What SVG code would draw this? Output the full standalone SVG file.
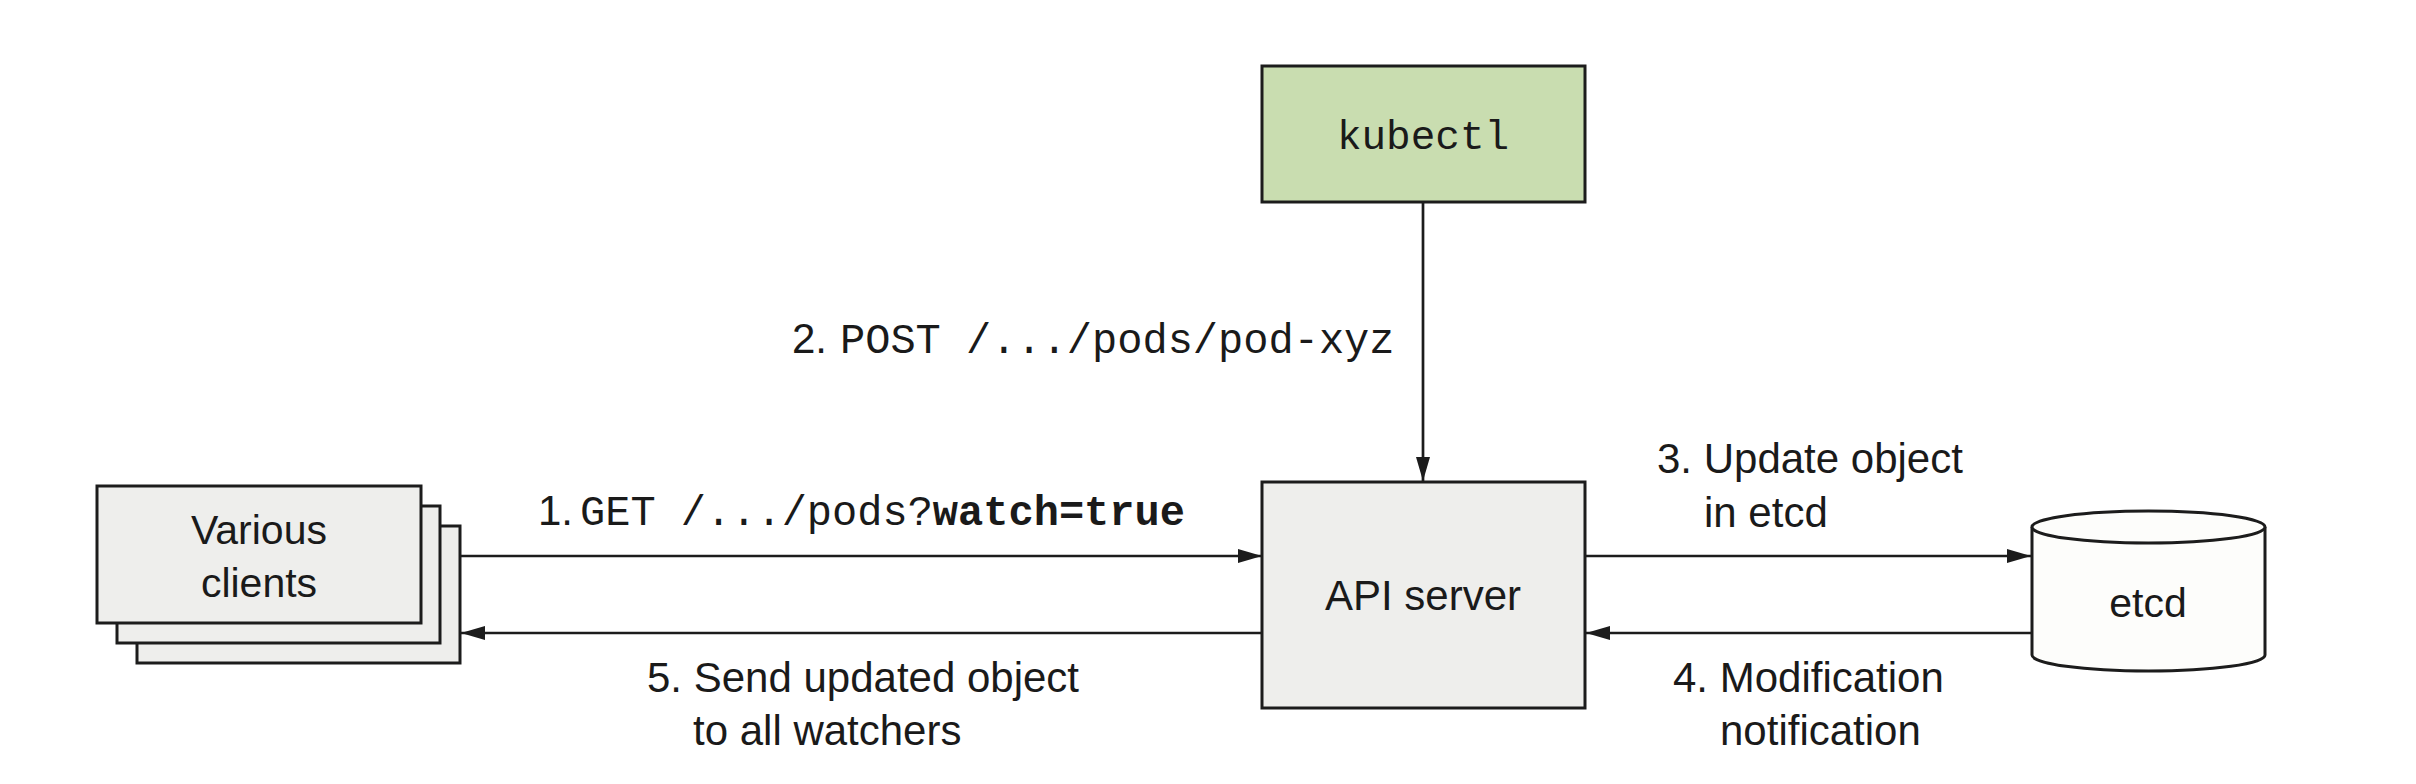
<svg xmlns="http://www.w3.org/2000/svg" width="2416" height="784" viewBox="0 0 2416 784">
<style>
.box{fill:#eeeeec;stroke:#1c1c1c;stroke-width:3}
.green{fill:#c9ddb0;stroke:#1c1c1c;stroke-width:3}
.cyl{fill:#fdfdfb;stroke:#1c1c1c;stroke-width:3}
.sans{font-family:"Liberation Sans",Arial,sans-serif;font-size:42px;fill:#1a1a1a}
.mono{font-family:"Liberation Mono","Courier New",monospace;fill:#1a1a1a}
.conn{stroke:#1c1c1c;stroke-width:2.7;fill:none}
</style>
<defs>
<marker id="arr" markerUnits="userSpaceOnUse" markerWidth="24" markerHeight="14" refX="24" refY="7" orient="auto">
<path d="M0,0 L24,7 L0,14 z" fill="#1c1c1c"/>
</marker>
</defs>
<rect width="2416" height="784" fill="#ffffff"/>

<g id="clients">
<rect class="box" x="137" y="526" width="323" height="137"/>
<rect class="box" x="117" y="506" width="323" height="137"/>
<rect class="box" x="97" y="486" width="324" height="137"/>
<text class="sans" x="259" y="544" text-anchor="middle" style="font-size:41px">Various</text>
<text class="sans" x="259" y="597" text-anchor="middle" style="font-size:41px">clients</text>
</g>

<g id="kubectl">
<rect class="green" x="1262" y="66" width="323" height="136"/>
<text class="mono" x="1423" y="149" text-anchor="middle" font-size="41">kubectl</text>
</g>

<g id="api-server">
<rect class="box" x="1262" y="482" width="323" height="226"/>
<text class="sans" x="1423" y="610" text-anchor="middle">API server</text>
</g>

<g id="etcd">
<path class="cyl" d="M2032,527 L2032,655 A116.5,16 0 0 0 2265,655 L2265,527 A116.5,16 0 0 0 2032,527 Z"/>
<path class="cyl" d="M2032,527 A116.5,16 0 0 0 2265,527" fill="none"/>
<text class="sans" x="2148" y="617" text-anchor="middle" style="font-size:41px">etcd</text>
</g>

<g id="connectors">
<line class="conn" x1="460" y1="556" x2="1262" y2="556" marker-end="url(#arr)"/>
<line class="conn" x1="1262" y1="633" x2="461" y2="633" marker-end="url(#arr)"/>
<line class="conn" x1="1423" y1="202" x2="1423" y2="481" marker-end="url(#arr)"/>
<line class="conn" x1="1585" y1="556" x2="2031" y2="556" marker-end="url(#arr)"/>
<line class="conn" x1="2032" y1="633" x2="1586" y2="633" marker-end="url(#arr)"/>
</g>

<g id="labels">
<text x="538" y="525"><tspan class="sans">1.</tspan><tspan class="mono" x="580" font-size="42">GET /.../pods?</tspan><tspan class="mono" font-size="42" font-weight="bold">watch=true</tspan></text>
<text x="792" y="353"><tspan class="sans">2.</tspan><tspan class="mono" x="840" font-size="42">POST /.../pods/pod-xyz</tspan></text>
<text class="sans" x="1657" y="473">3. Update object</text>
<text class="sans" x="1704" y="527">in etcd</text>
<text class="sans" x="1673" y="692">4. Modification</text>
<text class="sans" x="1720" y="745">notification</text>
<text class="sans" x="647" y="692">5. Send updated object</text>
<text class="sans" x="693" y="745">to all watchers</text>
</g>
</svg>
